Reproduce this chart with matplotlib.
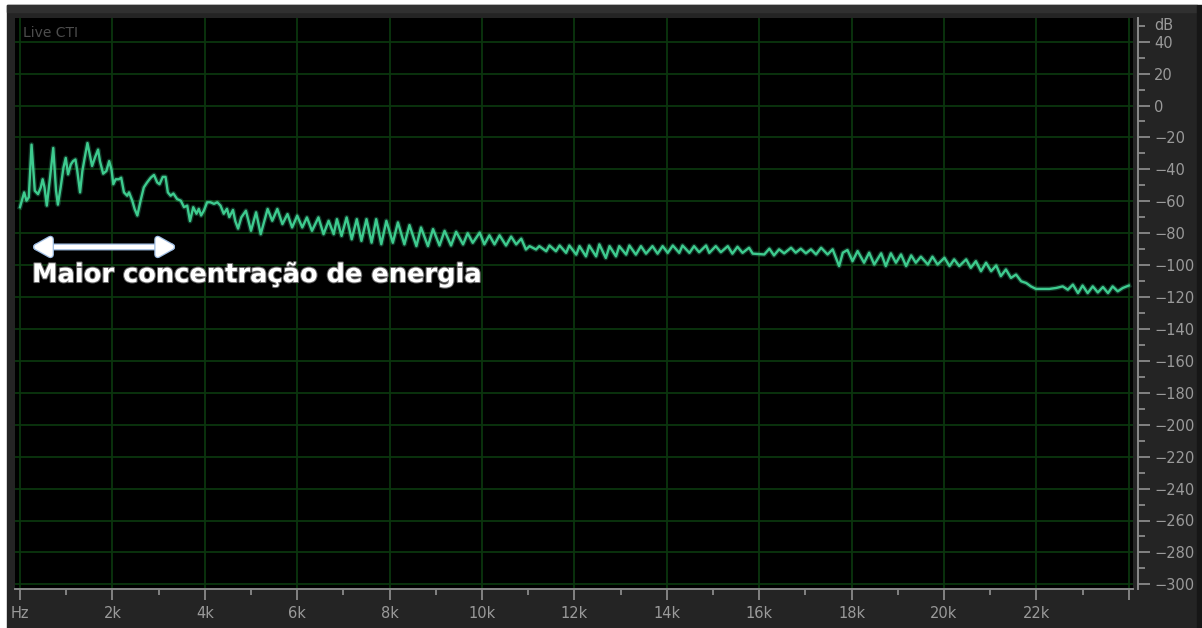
#!/usr/bin/env python3

import matplotlib
matplotlib.use("Agg")
import matplotlib.pyplot as plt
import matplotlib.ticker as mtick
import matplotlib.patheffects as pe
from matplotlib.patches import Rectangle
import numpy as np

# spectrum trace, kHz / dB, split into bands
lowKhz = [0.00, 0.09, 0.14, 0.19, 0.25, 0.32, 0.39, 0.45, 0.49, 0.53,
          0.58, 0.65, 0.72, 0.78, 0.82, 0.88, 0.94, 0.99, 1.04, 1.10,
          1.15, 1.20, 1.24, 1.30, 1.35, 1.40, 1.46, 1.51, 1.56, 1.62,
          1.69, 1.73, 1.80, 1.87, 1.93, 1.98, 2.02, 2.07, 2.14, 2.19,
          2.25, 2.32, 2.36, 2.43, 2.48, 2.54, 2.61, 2.68, 2.75, 2.83,
          2.90, 2.97, 3.02, 3.09, 3.15, 3.20, 3.26, 3.32, 3.40, 3.48,
          3.55, 3.62, 3.68, 3.75, 3.82, 3.87, 3.92, 3.98, 4.05, 4.12,
          4.20, 4.27, 4.34, 4.41, 4.48, 4.53, 4.61, 4.66, 4.72]
lowDb = [-63.7, -54.4, -59.6, -57.5, -24.5, -53.4, -55.5, -51.3, -46.2, -51.3,
         -62.7, -45.2, -26.6, -53.4, -62.1, -51.3, -39.0, -32.8, -43.1, -36.9,
         -34.8, -33.8, -41.0, -54.4, -41.0, -32.8, -23.5, -30.7, -37.9, -32.8,
         -27.6, -34.8, -42.7, -41.0, -34.8, -40.0, -49.3, -46.2, -46.2, -45.2,
         -54.4, -56.5, -54.4, -59.6, -64.7, -68.9, -59.6, -51.3, -48.2, -45.2,
         -43.5, -48.2, -49.3, -44.7, -44.7, -54.4, -56.5, -55.1, -58.6, -59.6,
         -63.7, -62.7, -72.4, -63.7, -67.8, -64.7, -68.9, -65.8, -60.6, -60.6,
         -61.6, -60.6, -62.7, -67.8, -64.7, -69.9, -65.4, -72.4, -77.1]

midKhz = [4.79, 4.89, 5.00, 5.11, 5.21, 5.36, 5.46, 5.57, 5.68, 5.79,
          5.89, 6.00, 6.11, 6.21, 6.32, 6.46, 6.57, 6.68, 6.79, 6.86,
          6.96, 7.07, 7.18, 7.29, 7.39, 7.50, 7.61, 7.71, 7.82, 7.93]
midDb = [-70.1, -65.9, -78.5, -66.9, -80.6, -64.8, -72.2, -64.8, -74.3, -68.0,
         -76.4, -69.0, -76.4, -70.1, -78.5, -70.1, -80.6, -72.2, -80.6, -71.2,
         -81.7, -70.1, -83.8, -71.2, -84.8, -71.2, -85.9, -71.2, -86.9, -72.2]

highKhz = [8.07, 8.18, 8.32, 8.43, 8.58, 8.68, 8.83, 8.94, 9.08, 9.19,
           9.33, 9.44, 9.59, 9.69, 9.80, 9.95, 10.05, 10.16, 10.27, 10.38,
           10.52, 10.63, 10.74, 10.85, 10.95, 11.03, 11.17, 11.24, 11.39, 11.46,
           11.60, 11.68, 11.82, 11.89, 12.04, 12.11, 12.25, 12.32, 12.47, 12.54,
           12.68, 12.76, 12.90, 12.97, 13.12, 13.19, 13.33, 13.44, 13.55, 13.69,
           13.80, 13.91, 14.02, 14.13, 14.27, 14.34, 14.49, 14.59, 14.70, 14.85,
           14.92, 15.06, 15.17, 15.32, 15.42, 15.53, 15.64, 15.78, 15.86]
highDb = [-86.0, -73.2, -87.0, -74.9, -88.1, -76.4, -88.1, -77.4, -87.7, -78.5,
          -87.7, -79.1, -87.0, -80.0, -86.0, -79.6, -87.0, -81.3, -87.0, -81.3,
          -87.7, -82.1, -87.0, -83.4, -90.2, -88.1, -90.2, -88.1, -91.3, -87.7,
          -91.3, -87.7, -92.3, -87.7, -93.4, -88.1, -94.5, -87.7, -94.5, -87.0,
          -95.5, -88.1, -94.5, -88.1, -93.4, -87.7, -93.4, -88.1, -92.8, -88.1,
          -92.8, -88.1, -92.3, -87.7, -92.3, -87.7, -92.3, -88.1, -91.9, -87.7,
          -92.3, -88.1, -91.9, -88.1, -92.8, -88.5, -92.3, -89.1, -92.8]

topKhz = [16.11, 16.22, 16.32, 16.43, 16.54, 16.69, 16.79, 16.90, 17.01, 17.12,
          17.23, 17.34, 17.48, 17.59, 17.73, 17.81, 17.91, 18.02, 18.13, 18.27,
          18.38, 18.49, 18.64, 18.74, 18.85, 18.96, 19.07, 19.18, 19.29, 19.39,
          19.50, 19.65, 19.75, 19.86, 20.01, 20.12, 20.22, 20.33, 20.48, 20.58,
          20.69, 20.80, 20.91, 21.02, 21.13, 21.23, 21.34, 21.45, 21.56, 21.67,
          21.78, 21.88, 21.99, 22.14, 22.28, 22.43, 22.57, 22.68, 22.79, 22.90,
          23.00, 23.11, 23.22, 23.33, 23.44, 23.55, 23.65, 23.76, 23.87, 24.00]
topDb = [-93.3, -89.7, -93.9, -90.1, -92.6, -89.1, -92.2, -89.7, -92.6, -90.1,
         -93.3, -89.1, -93.3, -90.1, -100.6, -92.2, -90.5, -97.5, -91.2, -98.5,
         -92.2, -99.6, -92.6, -100.6, -92.6, -98.5, -93.3, -100.6, -93.9, -98.5,
         -94.7, -99.6, -94.7, -99.6, -95.4, -100.6, -96.4, -100.6, -96.4, -101.7,
         -97.5, -103.8, -98.5, -103.8, -100.2, -106.9, -102.7, -108.0, -105.9, -110.1,
         -111.2, -113.3, -114.9, -114.9, -114.9, -114.3, -113.3, -115.4, -112.2, -117.5,
         -112.8, -117.5, -113.3, -117.1, -113.7, -117.5, -113.3, -116.4, -114.3, -112.8]

xTicks = [0, 2, 4, 6, 8, 10, 12, 14, 16, 18, 20, 22, 24]
xTickLabels = ["Hz", "2k", "4k", "6k", "8k", "10k", "12k", "14k", "16k", "18k", "20k", "22k", ""]
yTicks = [40, 20, 0, -20, -40, -60, -80, -100, -120, -140, -160, -180,
          -200, -220, -240, -260, -280, -300]

bandSpan = (0.26, 3.38)  # kHz, arrow extent
bandLevel = -88.6
bandText = "Maior concentração de energia"

W, H = 1202, 628
traceColor = "#3ecb8f"
gridColor = "#0b360e"
axisColor = "#8a8a8a"
labelColor = "#9a9a9a"

fig = plt.figure(figsize=(W / 100, H / 100), dpi=100, facecolor="white")

# window chrome behind the analyzer
def figRect(x0, y0, x1, y1, color):
  fig.patches.append(Rectangle((x0 / W, 1 - y1 / H), (x1 - x0) / W, (y1 - y0) / H,
                               transform=fig.transFigure, color=color, zorder=-10))

figRect(7, 5, 1197, H, "#242424")
figRect(7, 5, 1197, 12, "#303030")
figRect(1197, 5, W, H, "#161616")

ax = fig.add_axes([15 / W, 1 - 589 / H, (1133 - 15) / W, (589 - 18) / H], facecolor="black")
ax.set_zorder(1)

freq = np.concatenate([lowKhz, midKhz, highKhz, topKhz])
level = np.concatenate([lowDb, midDb, highDb, topDb])
ax.plot(freq, level, color=traceColor, lw=3.6, alpha=0.25, zorder=3)
ax.plot(freq, level, color=traceColor, lw=1.7, solid_joinstyle="round", zorder=4)

ax.set_xlim(-5 / 46.2, (1133 - 20) / 46.2)
ax.set_ylim(40 - (589 - 41.7) / 1.596, 40 + (41.7 - 18) / 1.596)

ax.xaxis.set_major_locator(mtick.FixedLocator(xTicks))
ax.xaxis.set_major_formatter(mtick.FixedFormatter(xTickLabels))
ax.xaxis.set_minor_locator(mtick.MultipleLocator(1))
ax.yaxis.set_major_locator(mtick.FixedLocator(yTicks))
ax.yaxis.set_minor_locator(mtick.FixedLocator(np.array(yTicks + [60]) - 10))
ax.yaxis.tick_right()

for side in ("left", "top"):
  ax.spines[side].set_visible(False)
for side in ("right", "bottom"):
  ax.spines[side].set_color(axisColor)
  ax.spines[side].set_linewidth(1.4)
ax.spines["right"].set_position(("outward", 3.5))

ax.tick_params(axis="both", which="both", colors=axisColor, labelcolor=labelColor,
               labelsize=10.5, width=1.3)
ax.tick_params(axis="x", which="major", length=8, pad=4)
ax.tick_params(axis="x", which="minor", length=4.5)
ax.tick_params(axis="y", which="major", length=8.6, pad=3)
ax.tick_params(axis="y", which="minor", length=5)

ax.grid(True, which="major", color=gridColor, linewidth=1.3)
ax.set_axisbelow(True)

ax.text(1 + (1154 - 1133) / 1118, 50, "dB", transform=ax.get_yaxis_transform(),
        ha="left", va="center", color=labelColor, fontsize=10.5)
ax.text(0.007, 0.974, "Live CTI", transform=ax.transAxes, ha="left", va="center",
        color="#4d4d4d", fontsize=10)

# energy band marker
ax.annotate("", xy=(bandSpan[1], bandLevel), xytext=(bandSpan[0], bandLevel),
            arrowprops=dict(arrowstyle="<|-|>,head_length=0.5,head_width=0.28",
                            mutation_scale=20, color="white", lw=3.2,
                            shrinkA=0, shrinkB=0,
                            path_effects=[pe.Stroke(linewidth=5, foreground="#9dbbe0"),
                                          pe.Normal()]),
            zorder=5)
ax.text(bandSpan[0], -106.2, bandText, ha="left", va="center", color="white",
        fontsize=18.5, fontweight="bold", zorder=5,
        path_effects=[pe.Stroke(linewidth=1.5, foreground="#6a6a6a"), pe.Normal()])

fig.savefig("out.png", dpi=100, facecolor=fig.get_facecolor())
